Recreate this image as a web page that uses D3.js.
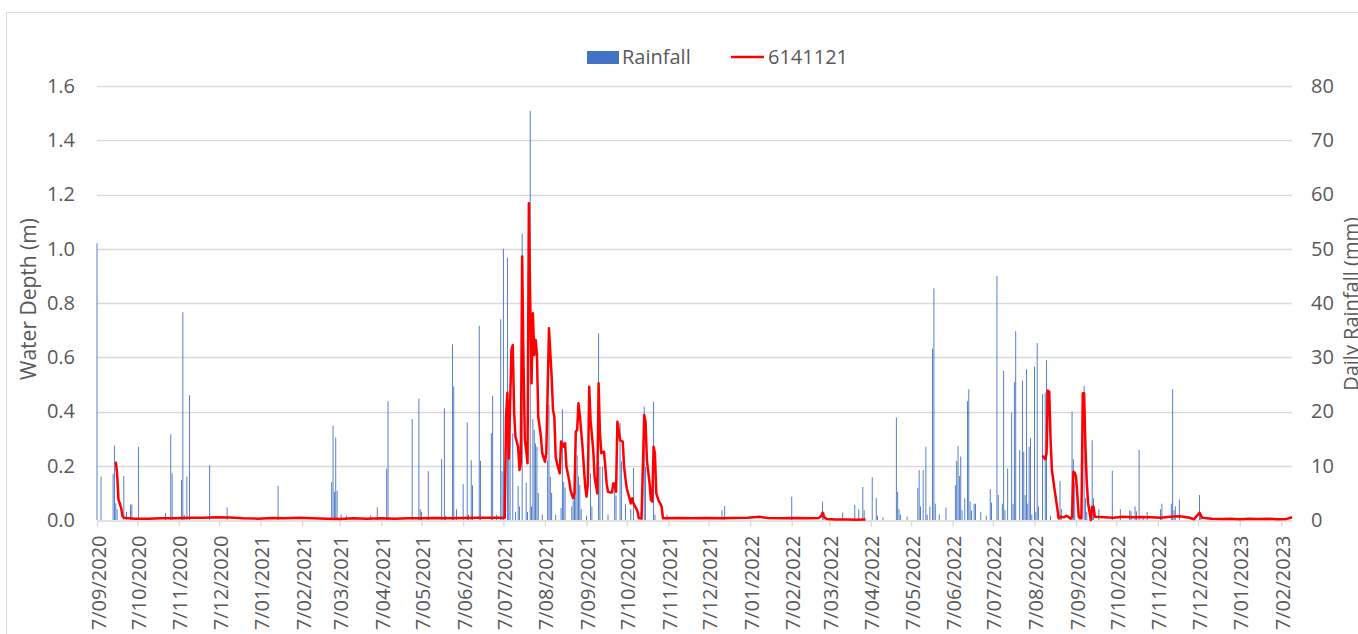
<!DOCTYPE html>
<html>
<head>
<meta charset="utf-8">
<script src="https://cdn.jsdelivr.net/npm/d3@7"></script>
<style>
  body { margin: 0; background: #fff; }
  svg text { font-family: "Open Sans", "Noto Sans", sans-serif; fill: #595959; }
</style>
</head>
<body>
<div id="chart"></div>
<script>
// daily rainfall (mm), only the days with rain
var rainDates = [
  '2020-09-07','2020-09-10','2020-09-19','2020-09-20','2020-09-21','2020-09-22','2020-09-27','2020-09-29',
  '2020-10-02','2020-10-03','2020-10-08','2020-10-28','2020-11-01','2020-11-02','2020-11-09','2020-11-10',
  '2020-11-11','2020-11-13','2020-11-15','2020-11-30','2020-12-13','2021-01-20',
  '2021-03-01','2021-03-02','2021-03-03','2021-03-04','2021-03-05','2021-03-08','2021-03-12','2021-03-30',
  '2021-04-04','2021-04-11','2021-04-12','2021-04-30','2021-05-05','2021-05-06','2021-05-07','2021-05-12',
  '2021-05-22','2021-05-24','2021-05-25','2021-05-30','2021-05-31','2021-06-02','2021-06-07','2021-06-10',
  '2021-06-11','2021-06-13','2021-06-14','2021-06-19','2021-06-20','2021-06-28','2021-06-29','2021-07-02',
  '2021-07-05','2021-07-06','2021-07-07','2021-07-10','2021-07-11','2021-07-12','2021-07-14','2021-07-16',
  '2021-07-18','2021-07-19','2021-07-21','2021-07-24','2021-07-25','2021-07-27','2021-07-28','2021-07-29',
  '2021-07-30','2021-07-31','2021-08-01','2021-08-02','2021-08-05','2021-08-09','2021-08-10','2021-08-11',
  '2021-08-12','2021-08-15','2021-08-19','2021-08-20','2021-08-21','2021-08-22','2021-08-27','2021-08-28',
  '2021-08-29','2021-08-30','2021-08-31','2021-09-01','2021-09-02','2021-09-03','2021-09-07','2021-09-10',
  '2021-09-11','2021-09-16','2021-09-17','2021-09-19','2021-09-23','2021-09-28','2021-09-29','2021-10-02',
  '2021-10-03','2021-10-06','2021-10-10','2021-10-12','2021-10-20','2021-10-21','2021-10-27','2021-10-28',
  '2021-11-06','2021-12-17','2021-12-19',
  '2022-02-07','2022-03-02','2022-03-03','2022-03-17','2022-03-26','2022-03-29','2022-04-01','2022-04-02',
  '2022-04-08','2022-04-11','2022-04-12','2022-04-16','2022-04-26','2022-04-27','2022-04-28','2022-04-29',
  '2022-05-04','2022-05-12','2022-05-13','2022-05-14','2022-05-16','2022-05-18','2022-05-19','2022-05-21',
  '2022-05-23','2022-05-24','2022-05-25','2022-05-28','2022-06-02','2022-06-09','2022-06-10','2022-06-11',
  '2022-06-12','2022-06-13','2022-06-14','2022-06-16','2022-06-18','2022-06-19','2022-06-20','2022-06-21',
  '2022-06-23','2022-06-24','2022-06-28','2022-07-02','2022-07-05','2022-07-06','2022-07-10','2022-07-11',
  '2022-07-14','2022-07-15','2022-07-16','2022-07-18','2022-07-21','2022-07-22','2022-07-23','2022-07-24',
  '2022-07-27','2022-07-29','2022-07-30','2022-07-31','2022-08-01','2022-08-02','2022-08-03','2022-08-04',
  '2022-08-05','2022-08-07','2022-08-08','2022-08-09','2022-08-10','2022-08-13','2022-08-15','2022-08-16',
  '2022-08-19','2022-08-26','2022-08-27','2022-09-04','2022-09-05','2022-09-06','2022-09-13','2022-09-14',
  '2022-09-15','2022-09-19','2022-09-20','2022-09-24','2022-10-04','2022-10-10','2022-10-17','2022-10-18',
  '2022-10-21','2022-10-22','2022-10-24','2022-10-27','2022-10-30','2022-11-09','2022-11-10','2022-11-17',
  '2022-11-18','2022-11-19','2022-11-20','2022-11-23','2022-12-08','2022-12-09'
]
var rainMm = [
  51, 8, 8.5, 13.7, 3.1, 2, 8.1, 1.5,
  2.8, 2.9, 13.5, 1.3, 15.8, 8.6, 7.4, 38.3,
  1, 8, 23, 10.1, 2.3, 6.3,
  7, 17.4, 5.2, 15.2, 5.4, 1, 0.8, 0.8,
  2.3, 9.5, 21.9, 18.6, 22.4, 2, 1.5, 9,
  11.2, 20.6, 0.8, 32.4, 24.6, 2, 6.6, 18,
  1, 11, 6.4, 35.8, 10.9, 16, 22.9, 1,
  37, 9, 50, 48.4, 11.2, 21.2, 16, 1.5,
  6.3, 2.5, 52.8, 6.9, 1.5, 75.4, 2.5, 18.6,
  16.6, 14.1, 13.5, 5, 1, 11, 21.2, 8,
  5, 1, 2.2, 20.4, 7, 6, 2.5, 3.6,
  5.5, 9.8, 11.9, 8, 6.5, 2, 0.8, 8.6,
  2.5, 34.4, 9.8, 9.8, 1, 6.4, 4.5, 17.9,
  10.8, 3, 2, 9.6, 20.9, 9.8, 21.8, 1,
  1, 1.8, 2.6,
  4.3, 3.4, 1.5, 1.4, 2.8, 2, 6.1, 1.8,
  7.9, 4, 0.8, 0.5, 18.9, 5.2, 2, 1,
  0.6, 5.9, 9.2, 2.5, 9.2, 13.5, 1, 2.5,
  31.6, 42.7, 3, 1, 2.3, 6.4, 10.9, 13.6,
  8.1, 11.7, 1.8, 4, 21.9, 24.1, 3.4, 1.7,
  3, 3, 1.5, 0.8, 5.7, 3.2, 45, 4.6,
  3, 27.5, 1.8, 9.5, 19.8, 3, 25.4, 34.8,
  12.9, 25.7, 12.6, 4.6, 27.8, 3, 13.5, 15.1,
  1, 28.3, 1.5, 32.6, 2.5, 23.2, 23.5, 29.5,
  0.8, 7.2, 2, 20, 11.2, 6.9, 24.7, 4,
  1.5, 14.7, 4, 2, 9.1, 2, 1.8, 1.6,
  2.5, 1.6, 12.9, 0.8, 1.5, 2, 3, 3,
  24.1, 1.8, 2.5, 3.8, 4.6, 1
]

// water depth (m) at gauge 6141121, null = no record
var depthDates = [
  '2020-09-21','2020-09-22','2020-09-23','2020-09-24','2020-09-25','2020-09-26','2020-09-27',
  '2020-10-05','2020-10-15','2020-10-25','2020-11-05','2020-11-15','2020-11-25','2020-12-05','2020-12-15',
  '2020-12-25','2021-01-05','2021-01-15','2021-01-25','2021-02-05','2021-02-15','2021-02-25','2021-03-07',
  '2021-03-17','2021-03-27','2021-04-07','2021-04-17','2021-04-27','2021-05-07','2021-05-17','2021-05-27',
  '2021-06-07','2021-06-17','2021-06-27','2021-07-08',
  '2021-07-09','2021-07-10','2021-07-11','2021-07-13','2021-07-14','2021-07-15','2021-07-16','2021-07-18',
  '2021-07-19','2021-07-20','2021-07-21','2021-07-22','2021-07-23','2021-07-24','2021-07-25','2021-07-26',
  '2021-07-27','2021-07-28','2021-07-29','2021-07-30','2021-07-31','2021-08-01','2021-08-02','2021-08-04',
  '2021-08-05','2021-08-07','2021-08-08','2021-08-10','2021-08-12','2021-08-13','2021-08-14','2021-08-15',
  '2021-08-16','2021-08-18','2021-08-19','2021-08-20','2021-08-21','2021-08-22','2021-08-23','2021-08-25',
  '2021-08-26','2021-08-28','2021-08-29','2021-08-30','2021-08-31','2021-09-01','2021-09-02','2021-09-04',
  '2021-09-05','2021-09-06','2021-09-07','2021-09-08','2021-09-09','2021-09-10','2021-09-12','2021-09-13',
  '2021-09-15','2021-09-16','2021-09-17','2021-09-18','2021-09-20','2021-09-21','2021-09-22','2021-09-23',
  '2021-09-25','2021-09-26','2021-09-27','2021-09-28','2021-09-29','2021-09-30','2021-10-01','2021-10-02',
  '2021-10-04','2021-10-05','2021-10-06','2021-10-07','2021-10-09','2021-10-10','2021-10-11','2021-10-12',
  '2021-10-14','2021-10-15','2021-10-16','2021-10-17','2021-10-18','2021-10-19','2021-10-20','2021-10-21',
  '2021-10-22','2021-10-24','2021-10-25','2021-10-26','2021-10-27','2021-10-28','2021-10-29','2021-10-31',
  '2021-11-01','2021-11-02','2021-11-03',
  '2021-11-15','2021-11-25','2021-12-05','2021-12-15','2021-12-25','2022-01-05','2022-01-14','2022-01-20',
  '2022-01-31','2022-02-10','2022-02-20','2022-02-27','2022-03-01','2022-03-02','2022-03-03','2022-03-05',
  '2022-03-12','2022-03-20','2022-03-27','2022-04-03','2022-04-04',
  '2022-08-13','2022-08-15','2022-08-16','2022-08-17','2022-08-18','2022-08-19','2022-08-20','2022-08-22',
  '2022-08-24','2022-08-25','2022-08-26','2022-08-29','2022-08-31','2022-09-01','2022-09-03','2022-09-04',
  '2022-09-05','2022-09-06','2022-09-07','2022-09-09','2022-09-10','2022-09-11','2022-09-12','2022-09-13',
  '2022-09-14','2022-09-15','2022-09-16','2022-09-18','2022-09-19','2022-09-20','2022-09-21',
  '2022-09-28','2022-10-05','2022-10-12','2022-10-19','2022-10-26','2022-11-02','2022-11-09','2022-11-16',
  '2022-11-23','2022-11-30','2022-12-04','2022-12-08','2022-12-10','2022-12-17','2022-12-24','2022-12-31',
  '2023-01-07','2023-01-14','2023-01-21','2023-01-28','2023-02-04','2023-02-11','2023-02-15'
]
var depthValues = [
  0.215, 0.17, 0.075, 0.06, 0.045, 0.015, 0.008,
  0.005, 0.005, 0.006, 0.006, 0.008, 0.008, 0.010, 0.009,
  0.006, 0.005, 0.007, 0.006, 0.008, 0.006, 0.005, 0.004,
  0.006, 0.005, 0.006, 0.005, 0.006, 0.006, 0.007, 0.006,
  0.007, 0.008, 0.008, 0.008,
  0.381, 0.469, 0.227, 0.627, 0.645, 0.399, 0.307, 0.270,
  0.184, 0.209, 0.971, 0.578, 0.295, 0.258, 0.209, 1.168,
  0.811, 0.504, 0.762, 0.608, 0.664, 0.614, 0.381, 0.307,
  0.246, 0.215, 0.246, 0.707, 0.528, 0.406, 0.381, 0.233,
  0.209, 0.172, 0.289, 0.283, 0.270, 0.283, 0.197, 0.147,
  0.111, 0.080, 0.098, 0.326, 0.332, 0.430, 0.387, 0.270,
  0.197, 0.123, 0.086, 0.135, 0.491, 0.369, 0.258, 0.160,
  0.098, 0.504, 0.320, 0.246, 0.252, 0.197, 0.135, 0.104,
  0.101, 0.101, 0.135, 0.135, 0.104, 0.362, 0.332, 0.295,
  0.289, 0.197, 0.154, 0.117, 0.080, 0.061, 0.080, 0.061,
  0.043, 0.031, 0.006, 0.006, 0.005, 0.197, 0.387, 0.362,
  0.221, 0.135, 0.074, 0.068, 0.270, 0.246, 0.098, 0.068,
  0.061, 0.049, 0.006,
  0.007, 0.006, 0.007, 0.006, 0.007, 0.008, 0.012, 0.007,
  0.006, 0.007, 0.006, 0.007, 0.015, 0.027, 0.012, 0.004,
  0.002, 0.002, 0.001, 0.002, null,
  0.237, 0.224, 0.246, 0.477, 0.473, 0.295, 0.184, 0.111,
  0.043, 0.006, 0.012, 0.010, 0.016, 0.012, 0.005, 0.012,
  0.178, 0.174, 0.160, 0.012, 0.006, 0.006, 0.467, 0.467,
  0.270, 0.135, 0.061, 0.0, 0.049, 0.049, 0.012,
  0.010, 0.008, 0.012, 0.010, 0.011, 0.010, 0.008, 0.012,
  0.014, 0.009, 0.003, 0.027, 0.008, 0.005, 0.004, 0.005,
  0.003, 0.005, 0.004, 0.005, 0.003, 0.004, 0.010
]

var depthTicks = [0, 0.2, 0.4, 0.6, 0.8, 1.0, 1.2, 1.4, 1.6]
var rainTicks = [0, 10, 20, 30, 40, 50, 60, 70, 80]
var dateTicks = [
  '2020-09-07','2020-10-07','2020-11-07','2020-12-07','2021-01-07','2021-02-07','2021-03-07','2021-04-07',
  '2021-05-07','2021-06-07','2021-07-07','2021-08-07','2021-09-07','2021-10-07','2021-11-07','2021-12-07',
  '2022-01-07','2022-02-07','2022-03-07','2022-04-07','2022-05-07','2022-06-07','2022-07-07','2022-08-07',
  '2022-09-07','2022-10-07','2022-11-07','2022-12-07','2023-01-07','2023-02-07'
]
var xStart = '2020-09-07', xEnd = '2023-02-15'

var width = 1358
var height = 634
var plotLeft = 97, plotRight = 1292, plotTop = 86, plotBottom = 520
var grey = '#d9d9d9'

var parse = d3.utcParse('%Y-%m-%d')
var fmt = d3.utcFormat('%-d/%m/%Y')

var x = d3.scaleUtc().domain([parse(xStart), parse(xEnd)]).range([plotLeft, plotRight])
var yDepth = d3.scaleLinear().domain([0, 1.6]).range([plotBottom, plotTop])
var yRain = d3.scaleLinear().domain([0, 80]).range([plotBottom, plotTop])

var svg = d3.select('#chart').append('svg')
  .attr('width', width)
  .attr('height', height)

// chart frame
svg.append('rect')
  .attr('x', 6.5).attr('y', 12.5)
  .attr('width', 1400).attr('height', 700)
  .attr('fill', '#fff').attr('stroke', grey)

// gridlines
svg.append('g').selectAll('line')
  .data(depthTicks.slice(1))
  .enter().append('line')
  .attr('x1', plotLeft).attr('x2', plotRight)
  .attr('y1', function(d) { return Math.round(yDepth(d)) + 0.5 })
  .attr('y2', function(d) { return Math.round(yDepth(d)) + 0.5 })
  .attr('stroke', grey).attr('stroke-width', 1.3)

// rainfall bars
var rain = rainDates.map(function(d, i) { return { date: parse(d), mm: rainMm[i] } })
svg.append('g').selectAll('rect')
  .data(rain)
  .enter().append('rect')
  .attr('x', function(d) { return x(d.date) - 0.45 })
  .attr('width', 0.9)
  .attr('y', function(d) { return yRain(d.mm) })
  .attr('height', function(d) { return plotBottom - yRain(d.mm) })
  .attr('fill', '#4472C4')

// x axis
var xAxis = svg.append('g')
  .attr('transform', 'translate(0,' + (plotBottom + 0.5) + ')')
  .call(d3.axisBottom(x)
    .tickValues(dateTicks.map(parse))
    .tickFormat(fmt)
    .tickSize(6)
    .tickSizeOuter(0))
xAxis.select('.domain').attr('stroke', grey).attr('stroke-width', 1.3)
xAxis.selectAll('.tick line').attr('stroke', grey).attr('stroke-width', 1.3)
xAxis.selectAll('.tick text')
  .attr('font-size', 20)
  .attr('text-anchor', 'end')
  .attr('x', 0).attr('y', 0).attr('dy', null)
  .attr('transform', 'translate(8,15) rotate(-90)')

// water depth line
var depth = depthDates.map(function(d, i) { return { date: parse(d), v: depthValues[i] } })
var line = d3.line()
  .defined(function(d) { return d.v !== null })
  .x(function(d) { return x(d.date) })
  .y(function(d) { return yDepth(d.v) })
svg.append('path')
  .datum(depth)
  .attr('d', line)
  .attr('fill', 'none')
  .attr('stroke', '#FF0000')
  .attr('stroke-width', 2.5)
  .attr('stroke-linejoin', 'round')

// left axis
var yl = svg.append('g')
  .attr('transform', 'translate(' + (plotLeft - 22) + ',0)')
  .call(d3.axisLeft(yDepth).tickValues(depthTicks).tickFormat(d3.format('.1f')).tickSize(0))
yl.select('.domain').remove()
yl.selectAll('text').attr('font-size', 20).attr('x', 0)

// right axis
var yr = svg.append('g')
  .attr('transform', 'translate(' + (plotRight + 19) + ',0)')
  .call(d3.axisRight(yRain).tickValues(rainTicks).tickSize(0))
yr.select('.domain').remove()
yr.selectAll('text').attr('font-size', 20).attr('x', 0)

// axis titles
svg.append('text')
  .attr('transform', 'translate(36,299) rotate(-90)')
  .attr('text-anchor', 'middle')
  .attr('font-size', 21)
  .text('Water Depth (m)')

svg.append('text')
  .attr('transform', 'translate(1358,304) rotate(-90)')
  .attr('text-anchor', 'middle')
  .attr('font-size', 20)
  .text('Daily Rainfall (mm)')

// legend
svg.append('rect')
  .attr('x', 587).attr('y', 51).attr('width', 32).attr('height', 13)
  .attr('fill', '#4472C4')
svg.append('text')
  .attr('x', 622).attr('y', 64)
  .attr('font-size', 20)
  .text('Rainfall')
svg.append('line')
  .attr('x1', 731).attr('x2', 764).attr('y1', 57).attr('y2', 57)
  .attr('stroke', '#FF0000').attr('stroke-width', 2.5)
svg.append('text')
  .attr('x', 768).attr('y', 64)
  .attr('font-size', 20)
  .text('6141121')
</script>
</body>
</html>
